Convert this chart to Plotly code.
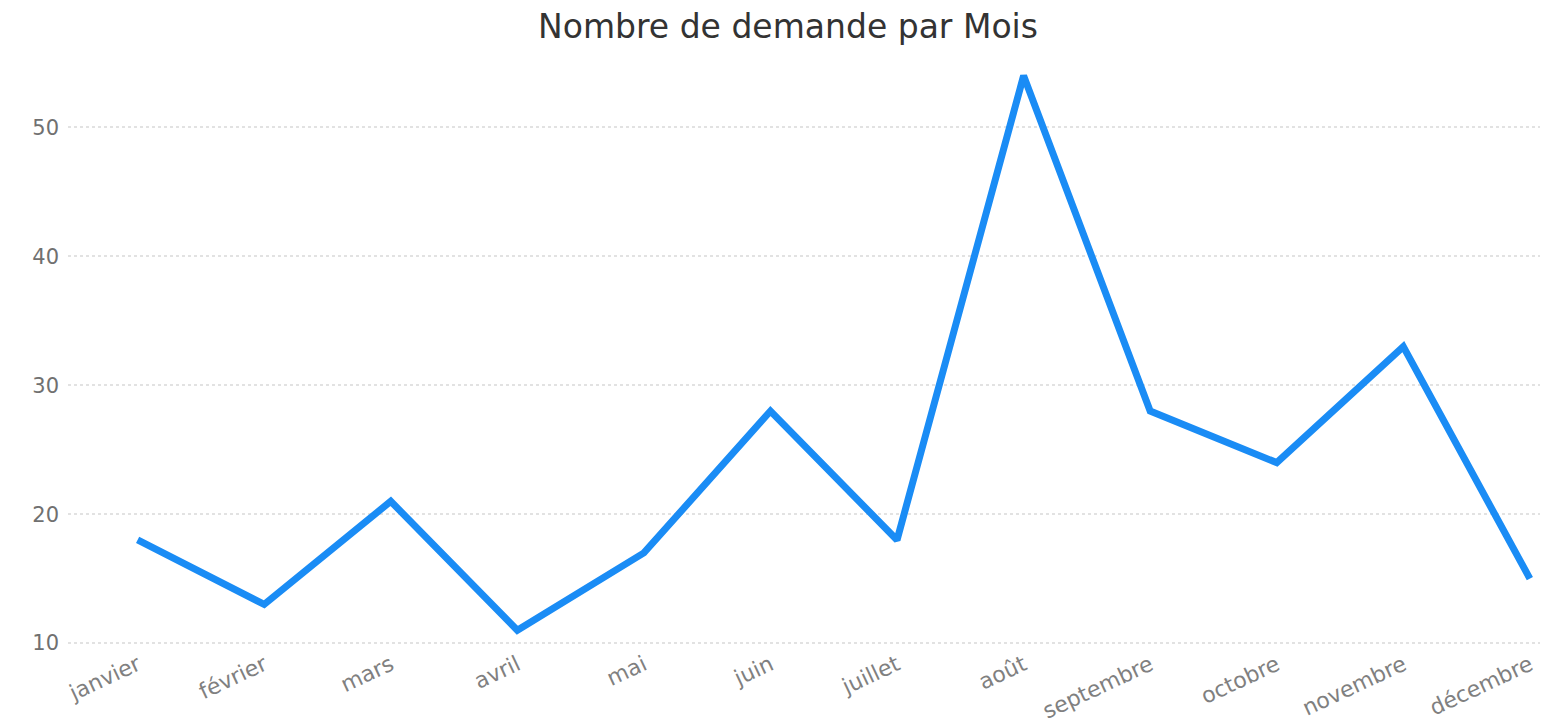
import plotly.graph_objects as go

mois = ["janvier", "février", "mars", "avril", "mai", "juin", "juillet",
        "août", "septembre", "octobre", "novembre", "décembre"]
demandes = [18, 13, 21, 11, 17, 28, 18, 54, 28, 24, 33, 15]
y_ticks = [10, 20, 30, 40, 50]

fig = go.Figure()
fig.add_trace(go.Scatter(
    x=mois, y=demandes, mode="lines",
    line=dict(color="#1a8cf5", width=7),
    hoverinfo="x+y",
))

fig.update_layout(
    width=1560, height=725,
    paper_bgcolor="white", plot_bgcolor="white",
    margin=dict(l=60, r=28, t=42, b=86, autoexpand=False),
    showlegend=False,
    title=dict(text="Nombre de demande par Mois", x=0.5, xanchor="center",
               y=0.99, yanchor="top",
               font=dict(family="DejaVu Sans", size=33, color="#333333")),
    font=dict(family="DejaVu Sans", color="#7a7a7a"),
)
fig.update_xaxes(
    type="category", range=[-0.55, 11.08], automargin=False,
    tickangle=-25, tickfont=dict(size=22, color="#808080"),
    showgrid=False, zeroline=False, showline=False, ticks="",
)
fig.update_yaxes(
    range=[9.7, 56], tickvals=y_ticks, automargin=False,
    tickfont=dict(size=21, color="#707070"),
    showgrid=True, gridcolor="#e2e2e2", griddash="dot", gridwidth=2,
    zeroline=False, showline=False, ticks="", ticklabelstandoff=8,
)

fig.write_html("out.html")
